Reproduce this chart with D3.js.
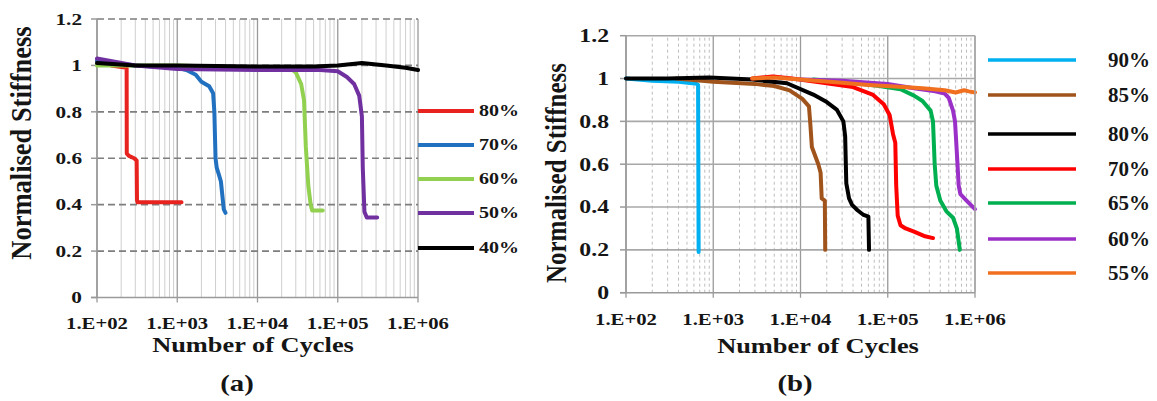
<!DOCTYPE html>
<html>
<head>
<meta charset="utf-8">
<script src="https://cdn.jsdelivr.net/npm/d3@7"></script>
<style>
  body { margin: 0; background: #fff; }
  svg { display: block; }
  text { font-family: "Liberation Serif", "Times New Roman", serif; font-weight: bold; fill: #151515; }
</style>
</head>
<body>
<svg width="1157" height="401"></svg>
<script>
// ---- data (cycles, normalised stiffness) ----
var yTicks = [0, 0.2, 0.4, 0.6, 0.8, 1, 1.2];
var yTickLabels = ['0', '0.2', '0.4', '0.6', '0.8', '1', '1.2'];
var xTicks = [1e2, 1e3, 1e4, 1e5, 1e6];
var xTickLabels = ['1.E+02', '1.E+03', '1.E+04', '1.E+05', '1.E+06'];

// panel (a)
var labelsA = ['80%', '70%', '60%', '50%', '40%'];
var colorsA = ['#e8221e', '#2271c0', '#92d050', '#7030a0', '#000000'];
var a80 = [[100,1.02],[150,1.0],[234,0.99],[235,0.62],[250,0.61],[290,0.60],[312,0.59],[315,0.42],[320,0.41],[600,0.41],[1130,0.41]];
var a70 = [[100,1.02],[300,1.0],[1000,0.99],[1300,0.98],[1700,0.96],[2000,0.93],[2500,0.91],[2800,0.88],[2900,0.80],[3000,0.60],[3100,0.56],[3300,0.53],[3500,0.50],[3800,0.38],[4000,0.365]];
var a60 = [[100,1.0],[1000,1.0],[10000,0.99],[25000,0.99],[30000,0.97],[35000,0.92],[38000,0.85],[40000,0.65],[43000,0.48],[46000,0.40],[48000,0.375],[65000,0.375]];
var a50 = [[100,1.03],[300,1.0],[1000,0.985],[10000,0.98],[60000,0.98],[100000,0.975],[130000,0.95],[160000,0.92],[185000,0.87],[200000,0.78],[205000,0.56],[215000,0.37],[230000,0.345],[310000,0.345]];
var a40 = [[100,1.01],[300,1.0],[1000,1.0],[10000,0.995],[50000,0.995],[100000,1.0],[200000,1.01],[400000,1.0],[700000,0.99],[1000000,0.98]];
var seriesA = [a80, a70, a60, a50, a40];

// panel (b)
var labelsB = ['90%', '85%', '80%', '70%', '65%', '60%', '55%'];
var colorsB = ['#00b0f0', '#a0541c', '#000000', '#ff0000', '#00b050', '#9b30c8', '#f07020'];
var b90 = [[100,1.0],[200,0.99],[400,0.985],[650,0.975],[670,0.97],[680,0.19]];
var b85 = [[375,1.0],[1000,0.985],[3000,0.975],[5000,0.965],[7500,0.945],[10500,0.905],[12500,0.87],[13000,0.78],[13500,0.68],[16000,0.60],[17000,0.56],[17500,0.44],[19000,0.43],[19200,0.2]];
var b80 = [[100,1.0],[300,1.0],[900,1.005],[2800,0.995],[7000,0.978],[14000,0.925],[20000,0.89],[26000,0.855],[31000,0.80],[32500,0.73],[33500,0.51],[36000,0.44],[39000,0.41],[45000,0.385],[52000,0.365],[60000,0.355],[61000,0.2]];
var b70 = [[2800,1.0],[4800,1.01],[8000,1.0],[15000,0.985],[40000,0.96],[67000,0.925],[90000,0.88],[105000,0.83],[115000,0.74],[122000,0.70],[125000,0.50],[130000,0.36],[140000,0.315],[160000,0.30],[200000,0.285],[260000,0.265],[330000,0.255]];
var b65 = [[14000,0.995],[40000,0.98],[80000,0.965],[140000,0.95],[200000,0.92],[250000,0.895],[310000,0.85],[330000,0.80],[345000,0.60],[360000,0.50],[400000,0.43],[470000,0.38],[560000,0.35],[620000,0.30],[670000,0.2]];
var b60 = [[10000,0.995],[30000,0.99],[100000,0.975],[200000,0.955],[350000,0.94],[450000,0.93],[500000,0.91],[560000,0.85],[590000,0.80],[610000,0.70],[630000,0.60],[650000,0.50],[680000,0.46],[800000,0.43],[1000000,0.39]];
var b55 = [[2800,1.0],[5000,1.005],[10000,0.995],[30000,0.98],[60000,0.97],[150000,0.96],[250000,0.955],[450000,0.945],[600000,0.935],[750000,0.945],[850000,0.94],[1000000,0.935]];
var seriesB = [b90, b85, b80, b70, b65, b60, b55];

var svg = d3.select('svg');

// stretched bold serif text (the source image is a little wide)
function addText(g, x, y, label, size, anchor, sx, rot) {
  var t = 'translate(' + x + ',' + y + ') scale(' + (sx || 1) + ',1)' + (rot ? ' rotate(' + rot + ')' : '');
  return g.append('text')
    .attr('transform', t)
    .attr('text-anchor', anchor || 'middle')
    .style('font-size', size + 'px')
    .text(label);
}

function minorTicks() {
  var arr = [];
  for (var e = 2; e < 6; e++)
    for (var m = 2; m < 10; m++) arr.push(m * Math.pow(10, e));
  return arr;
}

function drawPanel(opt) {
  var x = d3.scaleLog().domain([1e2, 1e6]).range([opt.x0, opt.x1]);
  var y = d3.scaleLinear().domain([0, 1.2]).range([opt.y0, opt.y1]);
  var g = svg.append('g');

  // minor vertical grid
  g.selectAll('.minor').data(minorTicks()).enter().append('line')
    .attr('x1', function(d){ return x(d); }).attr('x2', function(d){ return x(d); })
    .attr('y1', y(0)).attr('y2', y(1.2))
    .style('stroke', opt.minorColor).style('stroke-width', 1)
    .style('stroke-dasharray', opt.minorDash);

  // major vertical grid
  g.selectAll('.major').data(xTicks).enter().append('line')
    .attr('x1', function(d){ return x(d); }).attr('x2', function(d){ return x(d); })
    .attr('y1', y(0) + 5).attr('y2', y(1.2))
    .style('stroke', '#9a9a9a').style('stroke-width', 1.3);

  // horizontal grid
  g.selectAll('.hgrid').data(yTicks.slice(1)).enter().append('line')
    .attr('x1', x(1e2)).attr('x2', x(1e6))
    .attr('y1', function(d){ return y(d); }).attr('y2', function(d){ return y(d); })
    .style('stroke', opt.hColor).style('stroke-width', 1.6)
    .style('stroke-dasharray', opt.hDash);

  // axes
  g.append('line').attr('x1', x(1e2) - 6).attr('x2', x(1e6)).attr('y1', y(0)).attr('y2', y(0))
    .style('stroke', '#9a9a9a').style('stroke-width', 1.5);
  g.append('line').attr('x1', x(1e2)).attr('x2', x(1e2)).attr('y1', y(0)).attr('y2', y(1.2))
    .style('stroke', '#9a9a9a').style('stroke-width', 1.5);
  g.selectAll('.ytick').data(yTicks).enter().append('line')
    .attr('x1', x(1e2) - 6).attr('x2', x(1e2))
    .attr('y1', function(d){ return y(d); }).attr('y2', function(d){ return y(d); })
    .style('stroke', '#9a9a9a').style('stroke-width', 1.5);

  // tick labels
  yTicks.forEach(function(d, i){
    addText(g, opt.yLabelX, y(d) + opt.yTickSize * 0.34, yTickLabels[i], opt.yTickSize, 'end', 1.25);
  });
  xTicks.forEach(function(d, i){
    addText(g, x(d), opt.xLabelY, xTickLabels[i], 17, 'middle', 1.22);
  });

  // titles
  addText(g, opt.yTitleX, opt.yTitleY, 'Normalised Stiffness', opt.yTitleSize, 'middle', 1.15, -90);
  addText(g, opt.xTitleX, opt.xTitleY, 'Number of Cycles', 22, 'middle', 1.2);
  addText(g, opt.capX, 391, opt.caption, 24, 'middle', 1.2);

  // curves
  var line = d3.line().x(function(d){ return x(d[0]); }).y(function(d){ return y(d[1]); });
  opt.series.forEach(function(s, i){
    g.append('path').attr('d', line(s))
      .style('fill', 'none').style('stroke', opt.colors[i])
      .style('stroke-width', opt.lineWidth)
      .style('stroke-linejoin', 'round').style('stroke-linecap', 'round');
  });

  // legend
  opt.labels.forEach(function(l, i){
    var ly = opt.legY[i];
    g.append('line').attr('x1', opt.legX0).attr('x2', opt.legX1).attr('y1', ly).attr('y2', ly)
      .style('stroke', opt.colors[i]).style('stroke-width', opt.legWidth);
    addText(g, opt.legTextX, ly + opt.legSize * 0.34, l, opt.legSize, 'start', opt.legStretch);
  });
}

drawPanel({
  x0: 97, x1: 418, y0: 297.5, y1: 19,
  minorColor: '#cfcfcf', minorDash: null,
  hColor: '#7e7e7e', hDash: '7,4',
  yLabelX: 82, yTickSize: 17, xLabelY: 329,
  yTitleX: 31, yTitleY: 143, yTitleSize: 26.5,
  xTitleX: 253, xTitleY: 352, capX: 237, caption: '(a)',
  series: seriesA, colors: colorsA, labels: labelsA, lineWidth: 4,
  legX0: 418, legX1: 474, legY: [111, 145, 179, 213, 248], legWidth: 4,
  legTextX: 479, legSize: 16, legStretch: 1.25
});

drawPanel({
  x0: 626, x1: 975, y0: 292.7, y1: 35.7,
  minorColor: '#bdbdbd', minorDash: '3,3',
  hColor: '#a8a8a8', hDash: null,
  yLabelX: 609, yTickSize: 19, xLabelY: 325,
  yTitleX: 566, yTitleY: 173, yTitleSize: 25,
  xTitleX: 818, xTitleY: 353, capX: 795, caption: '(b)',
  series: seriesB, colors: colorsB, labels: labelsB, lineWidth: 4,
  legX0: 988, legX1: 1076, legY: [60, 95, 134, 169, 203, 239, 273], legWidth: 3.5,
  legTextX: 1108, legSize: 21, legStretch: 1
});

// right border of panel (b)
svg.append('line').attr('x1', 975).attr('x2', 975).attr('y1', 35.7).attr('y2', 292.7)
  .style('stroke', '#a8a8a8').style('stroke-width', 1.5);
</script>
</body>
</html>
